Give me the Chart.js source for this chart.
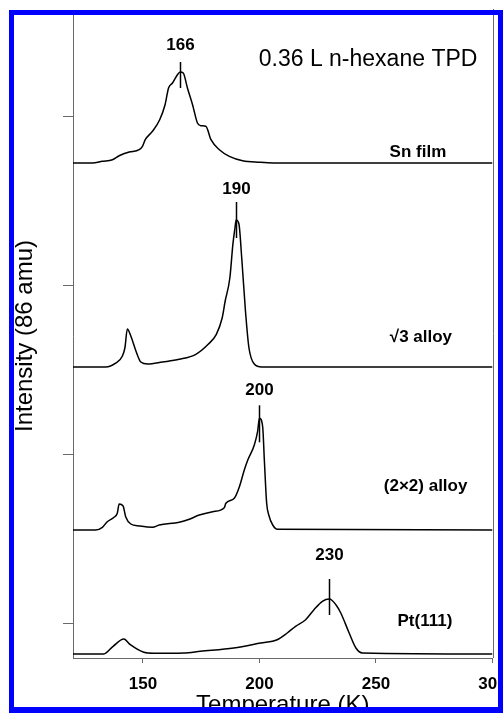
<!DOCTYPE html>
<html>
<head>
<meta charset="utf-8">
<script src="https://cdn.jsdelivr.net/npm/chart.js@4.4.0/dist/chart.umd.min.js"></script>
<style>
  html, body { margin: 0; padding: 0; background: #fff; }
  canvas { display: block; }
</style>
</head>
<body>
<canvas id="tpd" width="503" height="713"></canvas>
<script>
// n-hexane TPD traces (86 amu), temperature in K, intensity in arb. units
var snFilmT = [120, 128.3, 132.6, 136.9, 139.8, 144.1, 148.4, 149.8, 151, 154.1, 157.2, 159.5, 161, 162.7, 164.8, 166, 167.3, 169.1, 171.3, 173.4, 174.9, 177, 179.2, 182.8, 187.1, 192.8, 200, 206, 300];
var snFilmI = [0, 0, 1.7, 3.3, 7.3, 11, 13.3, 16.7, 23.3, 31.7, 43.3, 58.3, 75, 80, 88.3, 91, 90, 75, 58.3, 40, 37.3, 36.7, 23.3, 13.3, 6.7, 2.3, 0.7, 0, 0];

var sqrt3T = [120, 134, 138.3, 141.2, 142.3, 143.3, 144.8, 147, 149.1, 152, 158.4, 165.6, 172.7, 178, 181.5, 184, 185.3, 187.3, 188.6, 189.5, 190, 191.2, 192.4, 194, 195.5, 197.8, 201, 300];
var sqrt3I = [0, 0, 3.8, 11, 19.5, 38, 31, 16, 5, 3, 5, 7.7, 12.7, 22.7, 32.7, 49, 66, 89, 122.7, 139, 147, 143, 109, 56, 19, 3, 0, 0];

var alloy2x2T = [120, 129.7, 132.6, 134.7, 137.6, 139, 139.8, 141.5, 142.6, 144.8, 148.4, 154.1, 157, 165.6, 169.9, 174.2, 179.9, 184.9, 185.6, 189.2, 191.4, 193.5, 195, 197.8, 199.2, 200, 201.4, 202.1, 203.1, 204, 205.7, 207.8, 300];
var alloy2x2I = [0, 0, 2.7, 8.3, 12.7, 16.7, 26, 24, 13.3, 6, 4, 2.7, 5, 7.7, 10.7, 15, 18.3, 22.3, 26.7, 31.7, 43.3, 60, 70, 85, 98.3, 111.7, 103, 70, 26.7, 15, 5, 0.7, 0];

var ptT = [120, 133.2, 137.2, 141.8, 144.6, 150.4, 154.6, 167.5, 174.7, 189, 200.5, 207.6, 211.9, 215.5, 219.8, 223.4, 227, 230, 232.8, 234.9, 238.5, 241.4, 244.2, 300];
var ptI = [0, 0, 7.7, 15, 9.3, 1.7, 0.7, 1, 2.7, 6, 11, 14.3, 21, 27.7, 34.3, 44.3, 52.7, 55, 49.3, 41, 21, 6, 1, 0];

var seriesNames = ['Sn film', '\u221A3 alloy', '(2\u00D72) alloy', 'Pt(111)'];
var baselines = [495, 291, 128, 4];      // vertical offset of each trace
var peakTemps = [166, 190, 200, 230];
var xTicks = [150, 200, 250, 300];
var yTicks = [35, 204, 373, 542];

var series = [
  { T: snFilmT, I: snFilmI },
  { T: sqrt3T, I: sqrt3I },
  { T: alloy2x2T, I: alloy2x2I },
  { T: ptT, I: ptI }
];

var FONT = "'Liberation Sans', Arial, Helvetica, sans-serif";
var AXIS = '#6a6a6a';

var datasets = series.map(function (s, i) {
  return {
    label: seriesNames[i],
    data: s.T.map(function (t, j) { return { x: t, y: s.I[j] + baselines[i] }; }),
    borderColor: '#000',
    borderWidth: 1.5,
    pointRadius: 0,
    fill: false,
    cubicInterpolationMode: 'monotone'
  };
});

// trace names, peak markers and the heading
var annotate = {
  id: 'annotate',
  afterDatasetsDraw: function (chart, args, opts) {
    var ctx = chart.ctx, x = chart.scales.x, y = chart.scales.y;
    ctx.save();
    ctx.fillStyle = '#000';
    ctx.strokeStyle = '#000';

    ctx.font = '23px ' + FONT;
    ctx.textAlign = 'left';
    ctx.textBaseline = 'alphabetic';
    ctx.fillText(opts.heading, x.getPixelForValue(opts.headingAt[0]), y.getPixelForValue(opts.headingAt[1]));

    ctx.font = 'bold 17px ' + FONT;
    ctx.textAlign = 'center';
    seriesNames.forEach(function (name, i) {
      var p = opts.nameAt[i];
      ctx.fillText(name, x.getPixelForValue(p[0]), y.getPixelForValue(p[1]));
    });

    ctx.lineWidth = 1.5;
    peakTemps.forEach(function (t, i) {
      var px = Math.round(x.getPixelForValue(t)) + 0.5;
      var apex = y.getPixelForValue(Math.max.apply(null, series[i].I) + baselines[i]);
      ctx.beginPath();
      ctx.moveTo(px, apex - opts.markAbove[i]);
      ctx.lineTo(px, apex + opts.markBelow[i]);
      ctx.stroke();
      ctx.fillText(String(t), px, apex - opts.labelLift[i]);
    });
    ctx.restore();
  },
  afterDraw: function (chart) {
    var ctx = chart.ctx, a = chart.chartArea;
    ctx.save();
    // right frame line
    ctx.strokeStyle = AXIS;
    ctx.lineWidth = 1;
    ctx.beginPath();
    ctx.moveTo(Math.round(a.right) + 0.5, a.top - 5);
    ctx.lineTo(Math.round(a.right) + 0.5, a.bottom);
    ctx.stroke();
    // blue outline
    ctx.fillStyle = '#0000ff';
    ctx.fillRect(9, 10, 494, 5);
    ctx.fillRect(9, 10, 5, 703);
    ctx.fillRect(498, 10, 5, 703);
    ctx.fillRect(9, 707, 494, 6);
    ctx.restore();
  }
};

new Chart(document.getElementById('tpd'), {
  type: 'line',
  data: { datasets: datasets },
  plugins: [annotate],
  options: {
    responsive: false,
    animation: false,
    devicePixelRatio: 1,
    layout: { padding: { top: 14, right: 10.5, left: 0, bottom: 0 } },
    plugins: {
      legend: { display: false },
      tooltip: { enabled: false },
      annotate: {
        heading: '0.36 L n-hexane TPD',
        headingAt: [199.7, 592],
        nameAt: [[268, 501], [269.3, 316], [271.3, 167], [271, 32]],
        markAbove: [10, 18, 13, 20],
        markBelow: [16, 18, 24, 16],
        labelLift: [22, 26, 23, 39]
      }
    },
    scales: {
      x: {
        type: 'linear',
        min: 120,
        max: 300,
        grid: { drawOnChartArea: false, tickLength: 5, color: AXIS },
        border: { color: AXIS, width: 1 },
        ticks: { color: '#000', font: { family: FONT, size: 17, weight: 'bold' }, padding: 11, maxRotation: 0, autoSkip: false },
        title: { display: true, text: 'Temperature (K)', color: '#000', font: { family: FONT, size: 24, lineHeight: 0.6 }, padding: 0 },
        afterBuildTicks: function (scale) {
          scale.ticks = xTicks.map(function (v) { return { value: v }; });
        },
        afterFit: function (scale) {
          scale.height = 55;
          scale.paddingLeft = 0;
          scale.paddingRight = 0;
        }
      },
      y: {
        type: 'linear',
        min: 0,
        max: 644,
        grid: { drawOnChartArea: false, tickLength: 10, color: AXIS },
        border: { color: AXIS, width: 1 },
        ticks: { display: false },
        title: { display: true, text: 'Intensity (86 amu)', color: '#000', font: { family: FONT, size: 24 }, padding: { top: 11, bottom: 0 } },
        afterBuildTicks: function (scale) {
          scale.ticks = yTicks.map(function (v) { return { value: v }; });
        },
        afterFit: function (scale) {
          scale.width = 73;
        }
      }
    }
  }
});
</script>
</body>
</html>
